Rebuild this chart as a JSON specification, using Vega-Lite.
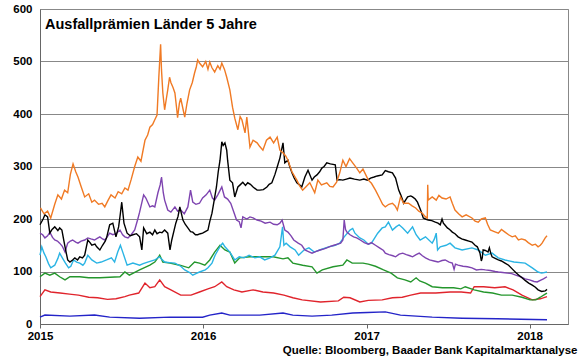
{
  "$schema": "https://vega.github.io/schema/vega-lite/v6.json",
  "autosize": {"type": "none"},
  "width": 528,
  "height": 315,
  "padding": {"left": 40, "top": 9, "right": 12, "bottom": 34},
  "background": "white",
  "config": {
    "font": "Liberation Sans",
    "view": {"stroke": "#888888", "strokeWidth": 1}
  },
  "title": {
    "text": "Ausfallprämien Länder 5 Jahre",
    "anchor": "start",
    "frame": "group",
    "offset": -29,
    "dx": 5,
    "fontSize": 14.5,
    "fontWeight": "bold",
    "font": "Liberation Sans",
    "color": "#000000"
  },
  "datasets": {
    "BR": [
      {"d":"2015-01-02","v":221},{"d":"2015-01-10","v":210},{"d":"2015-01-18","v":215},{"d":"2015-01-25","v":202},{"d":"2015-02-03","v":228},{"d":"2015-02-10","v":246},{"d":"2015-02-18","v":238},{"d":"2015-02-25","v":255},{"d":"2015-03-04","v":250},{"d":"2015-03-10","v":285},{"d":"2015-03-16","v":305},{"d":"2015-03-22","v":290},{"d":"2015-03-27","v":280},{"d":"2015-04-03","v":262},{"d":"2015-04-11","v":242},{"d":"2015-04-20","v":248},{"d":"2015-04-27","v":232},{"d":"2015-05-03","v":236},{"d":"2015-05-12","v":228},{"d":"2015-05-20","v":230},{"d":"2015-05-26","v":223},{"d":"2015-06-02","v":235},{"d":"2015-06-09","v":246},{"d":"2015-06-18","v":240},{"d":"2015-06-25","v":252},{"d":"2015-07-03","v":248},{"d":"2015-07-10","v":259},{"d":"2015-07-17","v":255},{"d":"2015-07-24","v":275},{"d":"2015-08-01","v":300},{"d":"2015-08-08","v":318},{"d":"2015-08-15","v":310},{"d":"2015-08-24","v":350},{"d":"2015-08-30","v":360},{"d":"2015-09-04","v":375},{"d":"2015-09-10","v":380},{"d":"2015-09-15","v":389},{"d":"2015-09-20","v":398},{"d":"2015-09-24","v":470},{"d":"2015-09-28","v":533},{"d":"2015-09-30","v":484},{"d":"2015-10-03","v":440},{"d":"2015-10-07","v":408},{"d":"2015-10-11","v":430},{"d":"2015-10-14","v":446},{"d":"2015-10-18","v":470},{"d":"2015-10-21","v":460},{"d":"2015-10-26","v":450},{"d":"2015-10-30","v":440},{"d":"2015-11-03","v":410},{"d":"2015-11-05","v":393},{"d":"2015-11-09","v":420},{"d":"2015-11-12","v":430},{"d":"2015-11-17","v":410},{"d":"2015-11-21","v":394},{"d":"2015-11-26","v":420},{"d":"2015-12-02","v":446},{"d":"2015-12-08","v":460},{"d":"2015-12-13","v":478},{"d":"2015-12-17","v":490},{"d":"2015-12-20","v":503},{"d":"2015-12-24","v":497},{"d":"2015-12-31","v":490},{"d":"2016-01-07","v":500},{"d":"2016-01-12","v":485},{"d":"2016-01-16","v":499},{"d":"2016-01-21","v":488},{"d":"2016-01-27","v":480},{"d":"2016-02-03","v":492},{"d":"2016-02-08","v":485},{"d":"2016-02-12","v":497},{"d":"2016-02-18","v":485},{"d":"2016-02-23","v":470},{"d":"2016-03-01","v":446},{"d":"2016-03-07","v":413},{"d":"2016-03-12","v":392},{"d":"2016-03-19","v":370},{"d":"2016-03-24","v":395},{"d":"2016-03-28","v":389},{"d":"2016-04-04","v":364},{"d":"2016-04-08","v":394},{"d":"2016-04-15","v":337},{"d":"2016-04-22","v":350},{"d":"2016-05-01","v":345},{"d":"2016-05-07","v":338},{"d":"2016-05-14","v":331},{"d":"2016-05-22","v":350},{"d":"2016-05-30","v":356},{"d":"2016-06-07","v":345},{"d":"2016-06-15","v":356},{"d":"2016-06-21","v":331},{"d":"2016-06-28","v":326},{"d":"2016-07-04","v":320},{"d":"2016-07-09","v":312},{"d":"2016-07-18","v":290},{"d":"2016-07-29","v":274},{"d":"2016-08-05","v":262},{"d":"2016-08-11","v":255},{"d":"2016-08-19","v":262},{"d":"2016-08-27","v":269},{"d":"2016-09-07","v":250},{"d":"2016-09-14","v":274},{"d":"2016-09-22","v":265},{"d":"2016-10-04","v":269},{"d":"2016-10-11","v":262},{"d":"2016-10-18","v":261},{"d":"2016-10-26","v":270},{"d":"2016-11-02","v":288},{"d":"2016-11-09","v":312},{"d":"2016-11-16","v":300},{"d":"2016-11-24","v":315},{"d":"2016-12-01","v":307},{"d":"2016-12-09","v":298},{"d":"2016-12-17","v":288},{"d":"2016-12-24","v":295},{"d":"2017-01-05","v":274},{"d":"2017-01-12","v":268},{"d":"2017-01-21","v":255},{"d":"2017-01-30","v":240},{"d":"2017-02-06","v":228},{"d":"2017-02-12","v":223},{"d":"2017-02-20","v":228},{"d":"2017-02-28","v":230},{"d":"2017-03-06","v":225},{"d":"2017-03-11","v":217},{"d":"2017-03-18","v":242},{"d":"2017-03-25","v":230},{"d":"2017-04-05","v":230},{"d":"2017-04-13","v":225},{"d":"2017-04-21","v":221},{"d":"2017-04-28","v":215},{"d":"2017-05-06","v":211},{"d":"2017-05-13","v":204},{"d":"2017-05-17","v":202},{"d":"2017-05-18","v":265},{"d":"2017-05-19","v":236},{"d":"2017-05-28","v":242},{"d":"2017-06-06","v":236},{"d":"2017-06-12","v":245},{"d":"2017-06-19","v":240},{"d":"2017-06-28","v":238},{"d":"2017-07-07","v":242},{"d":"2017-07-12","v":230},{"d":"2017-07-18","v":217},{"d":"2017-07-26","v":210},{"d":"2017-08-03","v":204},{"d":"2017-08-12","v":208},{"d":"2017-08-25","v":202},{"d":"2017-09-01","v":196},{"d":"2017-09-08","v":194},{"d":"2017-09-15","v":200},{"d":"2017-09-24","v":202},{"d":"2017-09-29","v":190},{"d":"2017-10-05","v":179},{"d":"2017-10-14","v":176},{"d":"2017-10-23","v":173},{"d":"2017-10-30","v":180},{"d":"2017-11-07","v":175},{"d":"2017-11-15","v":170},{"d":"2017-11-23","v":166},{"d":"2017-11-30","v":168},{"d":"2017-12-07","v":160},{"d":"2017-12-14","v":162},{"d":"2017-12-22","v":160},{"d":"2017-12-29","v":155},{"d":"2018-01-07","v":150},{"d":"2018-01-14","v":152},{"d":"2018-01-20","v":147},{"d":"2018-01-25","v":150},{"d":"2018-01-29","v":154},{"d":"2018-02-05","v":164},{"d":"2018-02-09","v":168}
    ],
    "PT": [
      {"d":"2015-01-01","v":189},{"d":"2015-01-08","v":200},{"d":"2015-01-12","v":208},{"d":"2015-01-18","v":204},{"d":"2015-01-23","v":173},{"d":"2015-01-28","v":180},{"d":"2015-02-03","v":185},{"d":"2015-02-10","v":178},{"d":"2015-02-14","v":183},{"d":"2015-02-19","v":179},{"d":"2015-02-26","v":147},{"d":"2015-03-04","v":122},{"d":"2015-03-09","v":118},{"d":"2015-03-15","v":122},{"d":"2015-03-20","v":126},{"d":"2015-03-26","v":122},{"d":"2015-03-31","v":128},{"d":"2015-04-06","v":126},{"d":"2015-04-11","v":131},{"d":"2015-04-18","v":160},{"d":"2015-04-23","v":155},{"d":"2015-04-27","v":150},{"d":"2015-05-04","v":152},{"d":"2015-05-08","v":147},{"d":"2015-05-15","v":141},{"d":"2015-05-21","v":150},{"d":"2015-05-27","v":158},{"d":"2015-05-30","v":164},{"d":"2015-06-06","v":189},{"d":"2015-06-13","v":192},{"d":"2015-06-20","v":166},{"d":"2015-06-26","v":185},{"d":"2015-06-29","v":204},{"d":"2015-07-03","v":232},{"d":"2015-07-08","v":192},{"d":"2015-07-15","v":173},{"d":"2015-07-22","v":168},{"d":"2015-07-28","v":170},{"d":"2015-08-05","v":172},{"d":"2015-08-12","v":166},{"d":"2015-08-17","v":141},{"d":"2015-08-21","v":183},{"d":"2015-08-28","v":172},{"d":"2015-09-04","v":175},{"d":"2015-09-10","v":170},{"d":"2015-09-15","v":179},{"d":"2015-09-20","v":172},{"d":"2015-09-26","v":175},{"d":"2015-10-01","v":174},{"d":"2015-10-07","v":179},{"d":"2015-10-14","v":173},{"d":"2015-10-19","v":141},{"d":"2015-10-23","v":160},{"d":"2015-11-01","v":192},{"d":"2015-11-06","v":205},{"d":"2015-11-10","v":223},{"d":"2015-11-17","v":198},{"d":"2015-11-22","v":190},{"d":"2015-11-28","v":183},{"d":"2015-12-04","v":176},{"d":"2015-12-09","v":175},{"d":"2015-12-15","v":170},{"d":"2015-12-20","v":170},{"d":"2015-12-26","v":172},{"d":"2015-12-31","v":173},{"d":"2016-01-06","v":176},{"d":"2016-01-12","v":179},{"d":"2016-01-16","v":195},{"d":"2016-01-21","v":211},{"d":"2016-01-26","v":236},{"d":"2016-01-31","v":261},{"d":"2016-02-04","v":290},{"d":"2016-02-08","v":312},{"d":"2016-02-12","v":347},{"d":"2016-02-15","v":340},{"d":"2016-02-19","v":345},{"d":"2016-02-23","v":331},{"d":"2016-02-25","v":312},{"d":"2016-03-01","v":274},{"d":"2016-03-07","v":269},{"d":"2016-03-12","v":242},{"d":"2016-03-19","v":261},{"d":"2016-03-24","v":265},{"d":"2016-03-30","v":270},{"d":"2016-04-05","v":264},{"d":"2016-04-10","v":269},{"d":"2016-04-16","v":266},{"d":"2016-04-22","v":261},{"d":"2016-05-01","v":255},{"d":"2016-05-07","v":255},{"d":"2016-05-15","v":256},{"d":"2016-05-23","v":261},{"d":"2016-05-28","v":266},{"d":"2016-06-03","v":269},{"d":"2016-06-10","v":285},{"d":"2016-06-15","v":299},{"d":"2016-06-21","v":316},{"d":"2016-06-28","v":345},{"d":"2016-07-02","v":307},{"d":"2016-07-09","v":312},{"d":"2016-07-13","v":300},{"d":"2016-07-18","v":288},{"d":"2016-07-23","v":278},{"d":"2016-07-29","v":269},{"d":"2016-08-04","v":265},{"d":"2016-08-09","v":261},{"d":"2016-08-16","v":280},{"d":"2016-08-23","v":293},{"d":"2016-09-01","v":274},{"d":"2016-09-06","v":280},{"d":"2016-09-12","v":284},{"d":"2016-09-18","v":290},{"d":"2016-09-23","v":297},{"d":"2016-09-28","v":300},{"d":"2016-10-04","v":307},{"d":"2016-10-12","v":305},{"d":"2016-10-18","v":304},{"d":"2016-10-23","v":303},{"d":"2016-10-27","v":274},{"d":"2016-11-02","v":275},{"d":"2016-11-09","v":274},{"d":"2016-11-17","v":276},{"d":"2016-11-25","v":278},{"d":"2016-12-05","v":276},{"d":"2016-12-17","v":274},{"d":"2016-12-26","v":276},{"d":"2017-01-03","v":274},{"d":"2017-01-10","v":278},{"d":"2017-01-18","v":280},{"d":"2017-01-25","v":282},{"d":"2017-02-05","v":284},{"d":"2017-02-12","v":292},{"d":"2017-02-19","v":290},{"d":"2017-02-28","v":288},{"d":"2017-03-07","v":278},{"d":"2017-03-14","v":255},{"d":"2017-03-19","v":245},{"d":"2017-03-23","v":236},{"d":"2017-03-25","v":230},{"d":"2017-04-03","v":242},{"d":"2017-04-10","v":244},{"d":"2017-04-14","v":242},{"d":"2017-04-20","v":238},{"d":"2017-04-25","v":232},{"d":"2017-05-02","v":217},{"d":"2017-05-08","v":202},{"d":"2017-05-13","v":200},{"d":"2017-05-19","v":198},{"d":"2017-05-27","v":197},{"d":"2017-06-04","v":194},{"d":"2017-06-10","v":192},{"d":"2017-06-15","v":189},{"d":"2017-06-19","v":200},{"d":"2017-06-22","v":192},{"d":"2017-06-26","v":188},{"d":"2017-07-01","v":183},{"d":"2017-07-06","v":180},{"d":"2017-07-12","v":175},{"d":"2017-07-18","v":172},{"d":"2017-07-25","v":166},{"d":"2017-08-02","v":162},{"d":"2017-08-10","v":160},{"d":"2017-08-18","v":158},{"d":"2017-08-25","v":156},{"d":"2017-09-01","v":150},{"d":"2017-09-06","v":147},{"d":"2017-09-12","v":135},{"d":"2017-09-15","v":120},{"d":"2017-09-17","v":126},{"d":"2017-09-19","v":141},{"d":"2017-09-24","v":140},{"d":"2017-09-30","v":137},{"d":"2017-10-03","v":145},{"d":"2017-10-06","v":135},{"d":"2017-10-09","v":128},{"d":"2017-10-16","v":125},{"d":"2017-10-23","v":122},{"d":"2017-10-30","v":120},{"d":"2017-11-07","v":116},{"d":"2017-11-15","v":112},{"d":"2017-11-23","v":105},{"d":"2017-12-01","v":98},{"d":"2017-12-08","v":93},{"d":"2017-12-15","v":88},{"d":"2017-12-22","v":83},{"d":"2017-12-30","v":78},{"d":"2018-01-07","v":74},{"d":"2018-01-14","v":70},{"d":"2018-01-20","v":65},{"d":"2018-01-28","v":62},{"d":"2018-02-05","v":63},{"d":"2018-02-09","v":66}
    ],
    "ID": [
      {"d":"2015-01-01","v":173},{"d":"2015-01-07","v":170},{"d":"2015-01-12","v":164},{"d":"2015-01-18","v":168},{"d":"2015-01-23","v":175},{"d":"2015-01-29","v":165},{"d":"2015-02-03","v":160},{"d":"2015-02-09","v":158},{"d":"2015-02-14","v":154},{"d":"2015-02-20","v":148},{"d":"2015-02-26","v":137},{"d":"2015-03-04","v":154},{"d":"2015-03-10","v":158},{"d":"2015-03-15","v":160},{"d":"2015-03-22","v":156},{"d":"2015-03-27","v":154},{"d":"2015-04-03","v":158},{"d":"2015-04-11","v":160},{"d":"2015-04-18","v":164},{"d":"2015-04-25","v":162},{"d":"2015-05-03","v":160},{"d":"2015-05-09","v":163},{"d":"2015-05-15","v":166},{"d":"2015-05-21","v":162},{"d":"2015-05-26","v":160},{"d":"2015-06-02","v":168},{"d":"2015-06-06","v":173},{"d":"2015-06-13","v":170},{"d":"2015-06-20","v":172},{"d":"2015-06-29","v":179},{"d":"2015-07-05","v":170},{"d":"2015-07-10","v":166},{"d":"2015-07-17","v":164},{"d":"2015-07-24","v":170},{"d":"2015-08-01","v":179},{"d":"2015-08-08","v":200},{"d":"2015-08-12","v":213},{"d":"2015-08-18","v":235},{"d":"2015-08-21","v":246},{"d":"2015-08-26","v":240},{"d":"2015-09-04","v":223},{"d":"2015-09-10","v":225},{"d":"2015-09-15","v":223},{"d":"2015-09-22","v":250},{"d":"2015-09-27","v":265},{"d":"2015-09-30","v":280},{"d":"2015-10-04","v":250},{"d":"2015-10-07","v":236},{"d":"2015-10-14","v":217},{"d":"2015-10-21","v":213},{"d":"2015-10-30","v":223},{"d":"2015-11-05","v":215},{"d":"2015-11-12","v":217},{"d":"2015-11-20","v":210},{"d":"2015-11-28","v":223},{"d":"2015-12-04","v":255},{"d":"2015-12-09","v":232},{"d":"2015-12-16","v":228},{"d":"2015-12-24","v":230},{"d":"2015-12-31","v":240},{"d":"2016-01-08","v":246},{"d":"2016-01-16","v":255},{"d":"2016-01-22","v":240},{"d":"2016-01-27","v":236},{"d":"2016-02-03","v":246},{"d":"2016-02-12","v":261},{"d":"2016-02-18","v":242},{"d":"2016-02-25","v":238},{"d":"2016-03-03","v":230},{"d":"2016-03-10","v":213},{"d":"2016-03-16","v":198},{"d":"2016-03-22","v":195},{"d":"2016-03-26","v":183},{"d":"2016-03-30","v":204},{"d":"2016-04-08","v":200},{"d":"2016-04-15","v":204},{"d":"2016-04-22","v":202},{"d":"2016-05-01","v":198},{"d":"2016-05-10","v":196},{"d":"2016-05-19","v":192},{"d":"2016-05-30","v":194},{"d":"2016-06-07","v":190},{"d":"2016-06-15","v":189},{"d":"2016-06-21","v":192},{"d":"2016-06-26","v":198},{"d":"2016-07-02","v":179},{"d":"2016-07-09","v":175},{"d":"2016-07-16","v":168},{"d":"2016-07-22","v":160},{"d":"2016-08-01","v":154},{"d":"2016-08-09","v":150},{"d":"2016-08-16","v":141},{"d":"2016-08-24","v":138},{"d":"2016-09-01","v":135},{"d":"2016-09-09","v":138},{"d":"2016-09-19","v":141},{"d":"2016-09-28","v":143},{"d":"2016-10-04","v":145},{"d":"2016-10-12","v":148},{"d":"2016-10-20","v":150},{"d":"2016-10-28","v":152},{"d":"2016-11-04","v":154},{"d":"2016-11-09","v":160},{"d":"2016-11-12","v":198},{"d":"2016-11-15","v":180},{"d":"2016-11-18","v":175},{"d":"2016-11-25","v":170},{"d":"2016-12-03","v":166},{"d":"2016-12-10","v":164},{"d":"2016-12-18","v":160},{"d":"2016-12-27","v":155},{"d":"2017-01-05","v":152},{"d":"2017-01-12","v":155},{"d":"2017-01-21","v":150},{"d":"2017-01-30","v":145},{"d":"2017-02-08","v":140},{"d":"2017-02-12","v":135},{"d":"2017-02-20","v":132},{"d":"2017-03-01","v":130},{"d":"2017-03-07","v":128},{"d":"2017-03-15","v":133},{"d":"2017-03-23","v":135},{"d":"2017-03-31","v":132},{"d":"2017-04-08","v":130},{"d":"2017-04-14","v":128},{"d":"2017-04-22","v":132},{"d":"2017-04-29","v":135},{"d":"2017-05-06","v":130},{"d":"2017-05-13","v":126},{"d":"2017-05-22","v":122},{"d":"2017-06-01","v":120},{"d":"2017-06-10","v":118},{"d":"2017-06-19","v":121},{"d":"2017-06-26","v":122},{"d":"2017-07-05","v":118},{"d":"2017-07-12","v":116},{"d":"2017-07-16","v":104},{"d":"2017-07-19","v":114},{"d":"2017-07-25","v":112},{"d":"2017-08-05","v":110},{"d":"2017-08-15","v":109},{"d":"2017-08-25","v":107},{"d":"2017-09-04","v":103},{"d":"2017-09-15","v":104},{"d":"2017-09-24","v":103},{"d":"2017-10-05","v":102},{"d":"2017-10-16","v":100},{"d":"2017-10-23","v":99},{"d":"2017-11-02","v":98},{"d":"2017-11-12","v":97},{"d":"2017-11-22","v":96},{"d":"2017-12-01","v":93},{"d":"2017-12-12","v":90},{"d":"2017-12-22","v":86},{"d":"2018-01-01","v":84},{"d":"2018-01-11","v":81},{"d":"2018-01-18","v":80},{"d":"2018-01-25","v":83},{"d":"2018-02-01","v":86},{"d":"2018-02-09","v":90}
    ],
    "IT": [
      {"d":"2015-01-01","v":131},{"d":"2015-01-05","v":147},{"d":"2015-01-10","v":135},{"d":"2015-01-14","v":128},{"d":"2015-01-20","v":115},{"d":"2015-01-25","v":107},{"d":"2015-02-03","v":112},{"d":"2015-02-10","v":125},{"d":"2015-02-14","v":135},{"d":"2015-02-20","v":126},{"d":"2015-02-27","v":116},{"d":"2015-03-06","v":107},{"d":"2015-03-11","v":110},{"d":"2015-03-17","v":122},{"d":"2015-03-24","v":118},{"d":"2015-03-31","v":116},{"d":"2015-04-07","v":112},{"d":"2015-04-11","v":116},{"d":"2015-04-18","v":131},{"d":"2015-04-27","v":122},{"d":"2015-05-08","v":116},{"d":"2015-05-18","v":118},{"d":"2015-05-30","v":122},{"d":"2015-06-10","v":126},{"d":"2015-06-17","v":118},{"d":"2015-06-24","v":137},{"d":"2015-06-30","v":150},{"d":"2015-07-06","v":135},{"d":"2015-07-15","v":112},{"d":"2015-07-28","v":116},{"d":"2015-08-12","v":112},{"d":"2015-08-20","v":115},{"d":"2015-08-30","v":118},{"d":"2015-09-15","v":122},{"d":"2015-09-25","v":128},{"d":"2015-10-07","v":118},{"d":"2015-10-18","v":117},{"d":"2015-10-30","v":116},{"d":"2015-11-12","v":110},{"d":"2015-11-21","v":103},{"d":"2015-12-02","v":98},{"d":"2015-12-09","v":93},{"d":"2015-12-16","v":96},{"d":"2015-12-24","v":99},{"d":"2016-01-06","v":103},{"d":"2016-01-12","v":107},{"d":"2016-01-21","v":116},{"d":"2016-01-28","v":131},{"d":"2016-02-03","v":140},{"d":"2016-02-10","v":150},{"d":"2016-02-14","v":154},{"d":"2016-02-19","v":147},{"d":"2016-03-01","v":137},{"d":"2016-03-12","v":122},{"d":"2016-03-22","v":128},{"d":"2016-04-02","v":126},{"d":"2016-04-13","v":131},{"d":"2016-04-26","v":126},{"d":"2016-05-07","v":128},{"d":"2016-05-18","v":122},{"d":"2016-05-30","v":126},{"d":"2016-06-10","v":131},{"d":"2016-06-21","v":147},{"d":"2016-06-27","v":185},{"d":"2016-06-30","v":150},{"d":"2016-07-05","v":154},{"d":"2016-07-14","v":147},{"d":"2016-07-25","v":141},{"d":"2016-08-02","v":131},{"d":"2016-08-14","v":141},{"d":"2016-08-25","v":145},{"d":"2016-09-06","v":137},{"d":"2016-09-18","v":141},{"d":"2016-10-08","v":147},{"d":"2016-10-23","v":150},{"d":"2016-11-02","v":154},{"d":"2016-11-12","v":166},{"d":"2016-11-25","v":179},{"d":"2016-12-01","v":182},{"d":"2016-12-06","v":173},{"d":"2016-12-17","v":164},{"d":"2016-12-26","v":160},{"d":"2017-01-05","v":152},{"d":"2017-01-12","v":154},{"d":"2017-01-26","v":173},{"d":"2017-02-05","v":183},{"d":"2017-02-12","v":185},{"d":"2017-02-19","v":194},{"d":"2017-02-28","v":179},{"d":"2017-03-08","v":185},{"d":"2017-03-15","v":189},{"d":"2017-03-23","v":183},{"d":"2017-04-03","v":173},{"d":"2017-04-14","v":185},{"d":"2017-04-22","v":170},{"d":"2017-05-01","v":160},{"d":"2017-05-13","v":166},{"d":"2017-05-28","v":154},{"d":"2017-06-02","v":162},{"d":"2017-06-06","v":173},{"d":"2017-06-09","v":141},{"d":"2017-06-15","v":147},{"d":"2017-06-28","v":150},{"d":"2017-07-07","v":154},{"d":"2017-07-18","v":145},{"d":"2017-08-03","v":141},{"d":"2017-08-25","v":145},{"d":"2017-09-08","v":141},{"d":"2017-09-24","v":131},{"d":"2017-10-09","v":135},{"d":"2017-10-23","v":126},{"d":"2017-11-07","v":122},{"d":"2017-11-27","v":118},{"d":"2017-12-22","v":116},{"d":"2018-01-07","v":107},{"d":"2018-01-20","v":99},{"d":"2018-01-28","v":97},{"d":"2018-02-09","v":99}
    ],
    "CN": [
      {"d":"2015-01-01","v":90},{"d":"2015-01-12","v":97},{"d":"2015-01-23","v":93},{"d":"2015-02-03","v":97},{"d":"2015-02-14","v":90},{"d":"2015-02-26","v":84},{"d":"2015-03-09","v":90},{"d":"2015-03-31","v":90},{"d":"2015-04-20","v":88},{"d":"2015-05-15","v":88},{"d":"2015-06-06","v":89},{"d":"2015-06-29","v":90},{"d":"2015-07-10","v":99},{"d":"2015-07-20","v":93},{"d":"2015-08-12","v":103},{"d":"2015-09-04","v":112},{"d":"2015-09-15","v":118},{"d":"2015-09-26","v":131},{"d":"2015-10-03","v":118},{"d":"2015-10-19","v":116},{"d":"2015-11-10","v":112},{"d":"2015-11-30","v":107},{"d":"2015-12-13","v":118},{"d":"2015-12-24","v":116},{"d":"2016-01-05","v":112},{"d":"2016-01-16","v":122},{"d":"2016-01-27","v":137},{"d":"2016-02-08","v":150},{"d":"2016-02-19","v":141},{"d":"2016-03-01","v":137},{"d":"2016-03-12","v":116},{"d":"2016-03-23","v":126},{"d":"2016-04-15","v":128},{"d":"2016-05-14","v":128},{"d":"2016-06-06","v":128},{"d":"2016-06-28","v":124},{"d":"2016-07-09","v":126},{"d":"2016-07-20","v":116},{"d":"2016-08-11","v":112},{"d":"2016-09-01","v":109},{"d":"2016-09-12","v":97},{"d":"2016-09-24","v":103},{"d":"2016-10-18","v":109},{"d":"2016-11-09","v":112},{"d":"2016-11-18","v":122},{"d":"2016-11-30","v":116},{"d":"2016-12-24","v":116},{"d":"2017-01-05","v":114},{"d":"2017-01-21","v":110},{"d":"2017-02-08","v":103},{"d":"2017-02-25","v":97},{"d":"2017-03-11","v":88},{"d":"2017-03-28","v":84},{"d":"2017-04-10","v":80},{"d":"2017-04-22","v":88},{"d":"2017-04-30","v":82},{"d":"2017-05-13","v":78},{"d":"2017-05-28","v":71},{"d":"2017-06-20","v":69},{"d":"2017-07-15","v":69},{"d":"2017-07-31","v":67},{"d":"2017-08-10","v":71},{"d":"2017-08-30","v":65},{"d":"2017-09-20","v":61},{"d":"2017-10-10","v":59},{"d":"2017-10-30","v":55},{"d":"2017-11-23","v":55},{"d":"2017-12-15","v":51},{"d":"2018-01-02","v":46},{"d":"2018-01-15","v":46},{"d":"2018-01-25","v":51},{"d":"2018-02-05","v":57},{"d":"2018-02-09","v":59}
    ],
    "KR": [
      {"d":"2015-01-01","v":52},{"d":"2015-01-12","v":65},{"d":"2015-01-25","v":61},{"d":"2015-02-15","v":59},{"d":"2015-03-08","v":57},{"d":"2015-03-28","v":55},{"d":"2015-04-20","v":51},{"d":"2015-05-10","v":50},{"d":"2015-06-01","v":47},{"d":"2015-06-20","v":48},{"d":"2015-07-10","v":52},{"d":"2015-07-20","v":55},{"d":"2015-08-10","v":59},{"d":"2015-08-24","v":78},{"d":"2015-09-04","v":69},{"d":"2015-09-15","v":71},{"d":"2015-09-26","v":84},{"d":"2015-10-07","v":71},{"d":"2015-10-21","v":65},{"d":"2015-11-12","v":55},{"d":"2015-12-05","v":55},{"d":"2015-12-24","v":61},{"d":"2016-01-12","v":67},{"d":"2016-01-27","v":71},{"d":"2016-02-12","v":80},{"d":"2016-02-23","v":71},{"d":"2016-03-10","v":65},{"d":"2016-03-28","v":61},{"d":"2016-04-22","v":65},{"d":"2016-05-14","v":61},{"d":"2016-06-07","v":59},{"d":"2016-06-30","v":55},{"d":"2016-07-20","v":50},{"d":"2016-08-10","v":46},{"d":"2016-09-20","v":42},{"d":"2016-10-30","v":44},{"d":"2016-11-11","v":51},{"d":"2016-11-25","v":50},{"d":"2016-12-17","v":42},{"d":"2017-01-05","v":45},{"d":"2017-02-05","v":46},{"d":"2017-02-28","v":50},{"d":"2017-03-22","v":51},{"d":"2017-04-10","v":55},{"d":"2017-05-02","v":59},{"d":"2017-06-05","v":59},{"d":"2017-07-07","v":61},{"d":"2017-08-01","v":61},{"d":"2017-08-22","v":59},{"d":"2017-08-30","v":71},{"d":"2017-09-20","v":71},{"d":"2017-10-15","v":69},{"d":"2017-11-07","v":71},{"d":"2017-11-25","v":65},{"d":"2017-12-15","v":55},{"d":"2018-01-07","v":46},{"d":"2018-01-25","v":48},{"d":"2018-02-09","v":52}
    ],
    "DE": [
      {"d":"2015-01-01","v":13},{"d":"2015-01-12","v":17},{"d":"2015-03-09","v":15},{"d":"2015-05-03","v":17},{"d":"2015-06-06","v":13},{"d":"2015-08-12","v":11},{"d":"2015-10-19","v":13},{"d":"2015-12-31","v":13},{"d":"2016-01-16","v":17},{"d":"2016-02-12","v":21},{"d":"2016-03-01","v":17},{"d":"2016-05-07","v":17},{"d":"2016-06-28","v":21},{"d":"2016-07-20","v":17},{"d":"2016-09-01","v":15},{"d":"2016-10-15","v":17},{"d":"2016-12-01","v":21},{"d":"2017-01-03","v":22},{"d":"2017-02-12","v":23},{"d":"2017-03-18","v":17},{"d":"2017-05-28","v":13},{"d":"2017-08-03","v":11},{"d":"2017-10-20","v":10},{"d":"2018-02-09","v":8}
    ],
    "labels": [
      {"label":"Brasilien","v":505},
      {"label":"Italien","v":460},
      {"label":"Indonesien","v":430},
      {"label":"Portugal","v":406},
      {"label":"China","v":347},
      {"label":"Südkorea","v":323},
      {"label":"Deutschland","v":255}
    ]
  },
  "encoding": {
    "x": {
      "field": "d",
      "type": "temporal",
      "scale": {"domain": [{"year": 2015, "month": 1, "date": 1}, {"year": 2018, "month": 3, "date": 28}]},
      "axis": {
        "values": [{"year": 2015, "month": 1, "date": 1}, {"year": 2016, "month": 1, "date": 1}, {"year": 2017, "month": 1, "date": 1}, {"year": 2018, "month": 1, "date": 1}],
        "format": "%Y",
        "grid": false,
        "domainColor": "#666666",
        "tickColor": "#666666",
        "tickSize": 4,
        "labelFont": "Liberation Sans",
        "labelFontSize": 11.5,
        "labelFontWeight": "bold",
        "labelColor": "#000000",
        "labelPadding": 2,
        "labelFlush": false,
        "title": "Quelle: Bloomberg, Baader Bank Kapitalmarktanalyse",
        "titleFont": "Liberation Sans",
        "titleFontSize": 11.5,
        "titleFontWeight": "bold",
        "titleColor": "#000000",
        "titleAlign": "right",
        "titleAnchor": "end",
        "titleBaseline": "alphabetic",
        "titleX": 537,
        "titleY": 29
      }
    },
    "y": {
      "field": "v",
      "type": "quantitative",
      "scale": {"domain": [0, 600], "nice": false},
      "axis": {
        "values": [0, 100, 200, 300, 400, 500, 600],
        "grid": true,
        "gridColor": "#888888",
        "gridWidth": 1,
        "domainColor": "#666666",
        "ticks": false,
        "labelFont": "Liberation Sans",
        "labelFontSize": 11.5,
        "labelFontWeight": "bold",
        "labelColor": "#000000",
        "labelPadding": 8,
        "title": null
      }
    }
  },
  "layer": [
    {"data": {"name": "DE"}, "mark": {"type": "line", "color": "#2424C8", "strokeWidth": 1.4}},
    {"data": {"name": "KR"}, "mark": {"type": "line", "color": "#E0242C", "strokeWidth": 1.4}},
    {"data": {"name": "CN"}, "mark": {"type": "line", "color": "#24962C", "strokeWidth": 1.4}},
    {"data": {"name": "IT"}, "mark": {"type": "line", "color": "#2AB4E4", "strokeWidth": 1.4}},
    {"data": {"name": "ID"}, "mark": {"type": "line", "color": "#7E44B0", "strokeWidth": 1.4}},
    {"data": {"name": "PT"}, "mark": {"type": "line", "color": "#000000", "strokeWidth": 1.4}},
    {"data": {"name": "BR"}, "mark": {"type": "line", "color": "#F07A24", "strokeWidth": 1.4}},
    {
      "data": {"name": "labels"},
      "mark": {"type": "text", "align": "right", "baseline": "alphabetic", "font": "Liberation Sans", "fontSize": 11.5, "fontWeight": "bold"},
      "encoding": {
        "x": {"datum": {"year": 2018, "month": 3, "date": 21}, "type": "temporal"},
        "text": {"field": "label", "type": "nominal"},
        "color": {
          "field": "label",
          "type": "nominal",
          "scale": {
            "domain": ["Brasilien", "Italien", "Indonesien", "Portugal", "China", "Südkorea", "Deutschland"],
            "range": ["#EE7326", "#2AB0E0", "#7E44B0", "#000000", "#24962C", "#E0242C", "#2424C8"]
          },
          "legend": null
        }
      }
    }
  ]
}
